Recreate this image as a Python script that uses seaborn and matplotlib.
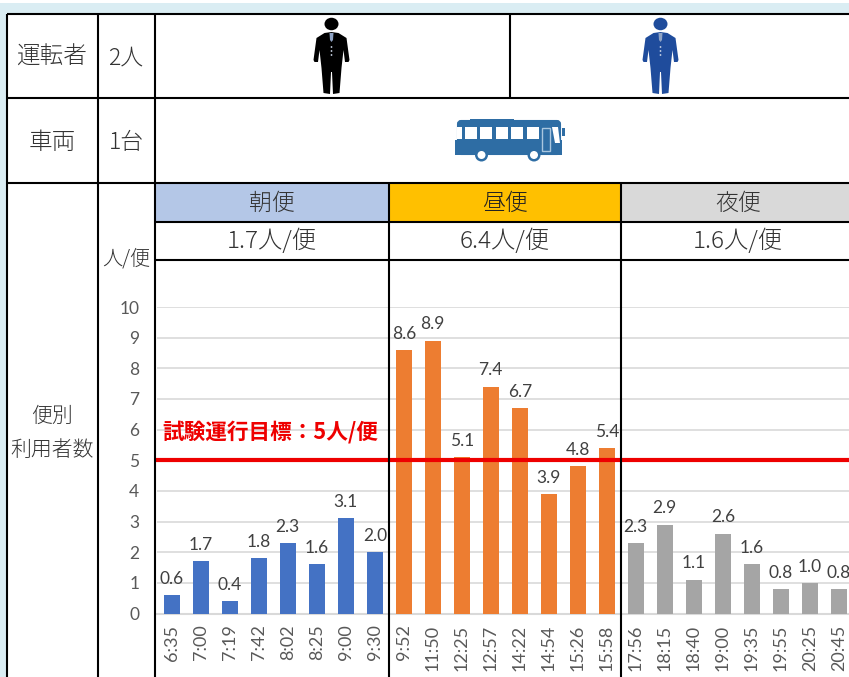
import matplotlib
matplotlib.use("Agg")
import matplotlib.pyplot as plt
from matplotlib.patches import Rectangle, Ellipse, Polygon, FancyBboxPatch, Circle
import seaborn as sns
import pandas as pd

times_morning = ["6:35", "7:00", "7:19", "7:42", "8:02", "8:25", "9:00", "9:30"]
times_noon = ["9:52", "11:50", "12:25", "12:57", "14:22", "14:54", "15:26", "15:58"]
times_night = ["17:56", "18:15", "18:40", "19:00", "19:35", "19:55", "20:25", "20:45"]
riders_morning = [0.6, 1.7, 0.4, 1.8, 2.3, 1.6, 3.1, 2.0]
riders_noon = [8.6, 8.9, 5.1, 7.4, 6.7, 3.9, 4.8, 5.4]
riders_night = [2.3, 2.9, 1.1, 2.6, 1.6, 0.8, 1.0, 0.8]
periods = ["朝便", "昼便", "夜便"]
period_avgs = ["1.7人/便", "6.4人/便", "1.6人/便"]
target = 5
target_label = "試験運行目標：5人/便"

W, H = 849, 677
JP = ["Noto Sans CJK JP", "DejaVu Sans"]
NUM = ["Lato", "DejaVu Sans"]
TXT = "#333333"
LBL = "#404040"
TICK = "#595959"

sns.set_theme(style="white")
plt.rcParams["font.family"] = JP

fig = plt.figure(figsize=(W / 100, H / 100), dpi=100, facecolor="white")

# page layer in pixel coordinates
bg = fig.add_axes([0, 0, 1, 1], zorder=0)
bg.set_xlim(0, W)
bg.set_ylim(H, 0)
bg.axis("off")
bg.add_patch(Rectangle((0, 3), W, 11, fc="#DAEDF3", ec="none"))
bg.add_patch(Rectangle((0, 3), 7, H, fc="#DAEDF3", ec="none"))
bg.add_patch(Rectangle((155, 184), 234, 38, fc="#B4C7E7", ec="none"))
bg.add_patch(Rectangle((389, 184), 232, 38, fc="#FFC000", ec="none"))
bg.add_patch(Rectangle((621, 184), 228, 38, fc="#D9D9D9", ec="none"))

# chart
df = pd.DataFrame({
    "time": times_morning + times_noon + times_night,
    "riders": riders_morning + riders_noon + riders_night,
    "period": [periods[0]] * 8 + [periods[1]] * 8 + [periods[2]] * 8,
})
left, right, bottom, top = 157.3, 853.3, 613.5, 307.0
ax = fig.add_axes([left / W, 1 - bottom / H, (right - left) / W, (bottom - top) / H], zorder=1)
ax.patch.set_alpha(0)
sns.barplot(data=df, x="time", y="riders", hue="period", dodge=False, width=0.56, ax=ax,
            palette=dict(zip(periods, ["#4472C4", "#ED7D31", "#A5A5A5"])),
            saturation=1, legend=False, zorder=3, edgecolor="none")
ax.set_xlim(-0.5, 23.5)
ax.set_ylim(0, 10)
ax.set_yticks(range(0, 11))
ax.set_xlabel("")
ax.set_ylabel("")
ax.yaxis.grid(True, color="#D9D9D9", lw=1.2, zorder=0)
ax.set_axisbelow(True)
for s in ["top", "right", "left"]:
    ax.spines[s].set_visible(False)
ax.spines["bottom"].set_color("#D9D9D9")
ax.spines["bottom"].set_linewidth(1.5)
ax.tick_params(axis="x", length=0, pad=8, labelsize=13, labelcolor=TICK, rotation=90)
ax.tick_params(axis="y", length=0, pad=13, labelsize=12.5, labelcolor=TICK)
for lab in ax.get_xticklabels() + ax.get_yticklabels():
    lab.set_fontfamily(NUM)
for i, v in enumerate(df["riders"]):
    ax.annotate(f"{v:.1f}", (i, v), xytext=(0, 6), textcoords="offset points", ha="center", va="bottom",
                fontsize=12.5, color=LBL, family=NUM, annotation_clip=False, zorder=6)
ax.plot([-0.6, 23.5], [target, target], color="#EE0000", lw=3, zorder=5, clip_on=False, solid_capstyle="butt")
ax.text(162, 432, target_label, transform=bg.transData, color="#EE0000", fontsize=15.6,
        fontweight="bold", va="center", ha="left", family=JP, zorder=6)

# overlay: table rules, texts, pictograms
ov = fig.add_axes([0, 0, 1, 1], zorder=2)
ov.set_xlim(0, W)
ov.set_ylim(H, 0)
ov.axis("off")
LW = 1.5
for y, x0 in [(14, 7), (98, 7), (183, 7), (222, 155), (260, 155)]:
    ov.plot([x0, W], [y, y], color="black", lw=LW, solid_capstyle="butt")
for x, y0 in [(7, 14), (98, 14), (155, 14), (389, 183), (621, 183)]:
    ov.plot([x, x], [y0, H], color="black", lw=LW, solid_capstyle="butt")
ov.plot([510, 510], [14, 98], color="black", lw=LW, solid_capstyle="butt")


def label(x, y, s, size, color=TXT):
    ov.text(x, y, s, fontsize=size, color=color, ha="center", va="center", family=JP, fontweight="light")


label(52, 57.5, "運転者", 17)
label(126, 57.5, "2人", 16.5)
label(52, 142.5, "車両", 17)
label(126, 142.5, "1台", 16.5)
label(52, 416, "便別", 15)
label(52, 450, "利用者数", 15)
label(126, 259.5, "人/便", 14.5)
for cx, p, a in zip([272, 505, 738], periods, period_avgs):
    label(cx, 203, p, 16.5, "#222222" if p == periods[1] else TXT)
    label(cx, 241.5, a, 17.5, TXT)


def person(cx, color):
    ov.add_patch(Ellipse((cx, 24), 14, 12.5, fc=color, ec="none"))
    half = [(0, 32), (7, 33), (15, 38), (18, 60), (17, 62), (13.5, 62), (12, 50), (10, 68), (8, 93), (1.5, 94), (0.5, 72)]
    pts = [(cx + dx, y) for dx, y in half] + [(cx - dx, y) for dx, y in reversed(half)]
    ov.add_patch(Polygon(pts, closed=True, fc=color, ec="none"))
    ov.add_patch(Polygon([(cx - 2, 33), (cx + 2, 33), (cx + 1.5, 40), (cx, 42), (cx - 1.5, 40)], fc="#8FA3C4", ec="none"))
    for y in (47, 51, 55):
        ov.add_patch(Circle((cx, y), 0.9, fc="#C9D4E6", ec="none"))


person(331.5, "black")
person(660.5, "#1F4C9C")

BUS = "#2E6DA4"
ov.add_patch(FancyBboxPatch((458, 121), 102, 33, boxstyle="round,pad=0,rounding_size=3", fc=BUS, ec=BUS, lw=1.5))
ov.add_patch(Rectangle((455, 140), 107, 15, fc=BUS, ec="none"))
ov.add_patch(Rectangle((470, 118.5), 44, 4, fc=BUS, ec="none"))
ov.add_patch(Rectangle((457.5, 127), 5, 12, fc="white", ec="none"))
for x in (465, 480.5, 496, 511.5, 527):
    ov.add_patch(Rectangle((x, 127), 12, 12, fc="white", ec="none"))
ov.add_patch(Rectangle((542, 127.5), 8, 23, fc=BUS, ec="#A9C6DF", lw=1))
ov.add_patch(Polygon([(552, 127), (558, 127), (560, 143), (555, 143)], fc="white", ec="none"))
ov.add_patch(Rectangle((562, 128), 3.5, 8, fc=BUS, ec="none"))
for x in (481.5, 534):
    ov.add_patch(Circle((x, 155), 6.5, fc=BUS, ec="none"))
    ov.add_patch(Circle((x, 155), 4, fc="white", ec="none"))

fig.savefig("out.png", dpi=100, facecolor="white")
